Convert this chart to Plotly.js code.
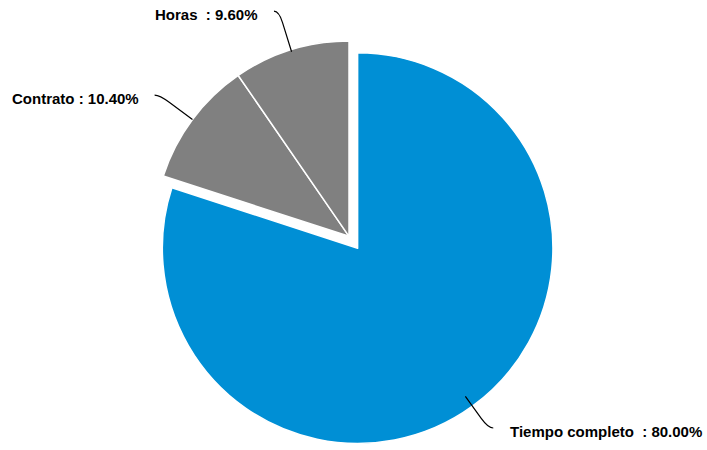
<!DOCTYPE html>
<html><head><meta charset="utf-8">
<script src="https://cdn.plot.ly/plotly-3.0.1.min.js"></script>
<style>html,body{margin:0;padding:0;background:#fff}</style>
</head><body>
<div id="chart" style="width:707px;height:450px"></div>
<script>
const categories = ["Tiempo completo\u00a0", "Contrato", "Horas\u00a0"];
const shares = [80.00, 10.40, 9.60];
const colors = ["#008fd5", "#808080", "#808080"];
const pulls = [0.075, 0, 0];

// layout constants (not data)
const W = 707, H = 450;
const dom = {x: [0.1966, 0.7907], y: [0.0083, 0.9414]};
const leaderOut = [27, 41, 40.5];   // radial length beyond the rim
const leaderIn = [12, 0, 2];        // start inside the rim
const labelGap = [15, 14, 14];
const FONT = "Liberation Sans, Arial, sans-serif";

const trace = {
  type: "pie",
  labels: categories,
  values: shares,
  sort: false,
  direction: "clockwise",
  rotation: 0,
  pull: pulls,
  marker: {colors: colors, line: {color: "#ffffff", width: 1.5}},
  textinfo: "none",
  hoverinfo: "label+percent",
  showlegend: false,
  domain: dom
};

// Geometry following Plotly's own pie scaling
const boxW = W * (dom.x[1] - dom.x[0]), boxH = H * (dom.y[1] - dom.y[0]);
const maxPull = Math.max(...pulls);
const r = Math.min(boxW, boxH) / (2 + 2 * maxPull);
const cx = W * (dom.x[0] + dom.x[1]) / 2;
const cy = H * (1 - (dom.y[0] + dom.y[1]) / 2);
const total = shares.reduce((a, b) => a + b, 0);

const shapes = [], annotations = [];
let cum = 0;
const px = x => x / W, py = y => 1 - y / H;
shares.forEach((v, i) => {
  const mid = (cum + v / 2) / total * 2 * Math.PI;
  cum += v;
  const dx = Math.sin(mid), dy = -Math.cos(mid);
  const ccx = cx + pulls[i] * r * dx, ccy = cy + pulls[i] * r * dy;
  const k = leaderOut[i];
  const start = [ccx + (r - leaderIn[i]) * dx, ccy + (r - leaderIn[i]) * dy];
  const p1 = [ccx + (r + k - 12) * dx, ccy + (r + k - 12) * dy];
  const knee = [ccx + (r + k) * dx, ccy + (r + k) * dy];
  const side = dx < 0 ? -1 : 1;
  const end = [knee[0] + side * 5, knee[1]];
  shapes.push({
    type: "path", xref: "paper", yref: "paper",
    path: `M ${px(start[0])},${py(start[1])} L ${px(p1[0])},${py(p1[1])} Q ${px(knee[0])},${py(knee[1])} ${px(end[0])},${py(end[1])}`,
    line: {color: "#000000", width: 1.2}
  });
  const pct = (v / total * 100).toFixed(2) + "%";
  annotations.push({
    xref: "paper", yref: "paper",
    x: px(end[0] + side * labelGap[i]), y: py(end[1] + 3),
    xanchor: side < 0 ? "right" : "left", yanchor: "middle",
    text: categories[i] + " : " + pct,
    showarrow: false,
    font: {family: FONT, size: 15, color: "#000000", weight: "bold"}
  });
});

Plotly.newPlot("chart", [trace], {
  width: W, height: H,
  margin: {l: 0, r: 0, t: 0, b: 0},
  paper_bgcolor: "#ffffff",
  showlegend: false,
  shapes: shapes,
  annotations: annotations
}, {displayModeBar: false, staticPlot: true});
</script>
</body></html>
